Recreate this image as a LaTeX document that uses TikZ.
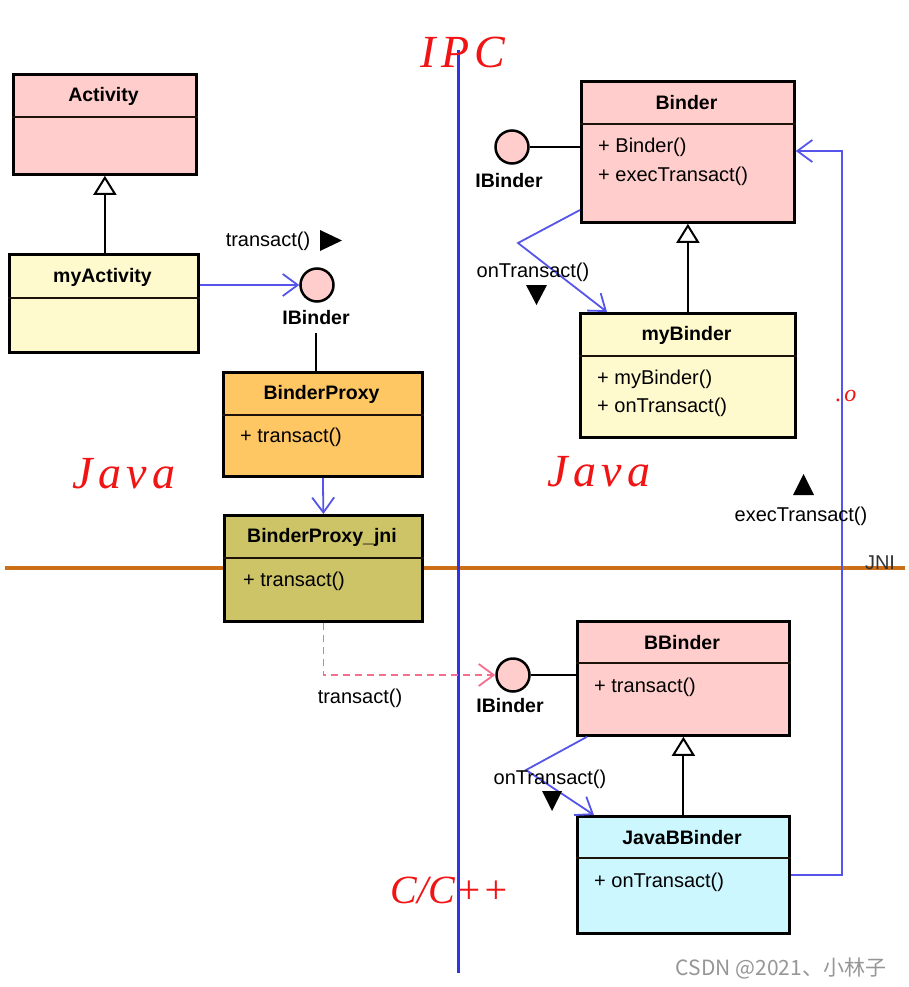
\documentclass[tikz,border=0pt]{standalone}
\usepackage{fontspec}
\setmainfont{Liberation Sans}
\newfontfamily\handfont[LetterSpace=12]{Liberation Serif}
\newfontfamily\handfonttight{Liberation Serif}
\newfontfamily\cjkfont{Noto Sans CJK SC}
\usetikzlibrary{arrows.meta}
\definecolor{pinkc}{RGB}{255,206,204}
\definecolor{yellowc}{RGB}{255,250,206}
\definecolor{orangec}{RGB}{255,198,100}
\definecolor{olivec}{RGB}{204,196,102}
\definecolor{cyanc}{RGB}{204,247,255}
\definecolor{assocblue}{RGB}{85,85,235}
\definecolor{ipcblue}{RGB}{50,50,230}
\definecolor{jnior}{RGB}{205,110,25}
\definecolor{dashpink}{RGB}{245,110,140}
\definecolor{handred}{RGB}{240,20,20}
\definecolor{wmgrey}{RGB}{150,150,150}
\begin{document}
\begin{tikzpicture}[x=1pt,y=-1pt,
 classbox/.style={draw=black, line width=2.8pt, inner sep=0pt, anchor=north west},
 titletext/.style={font=\fontsize{19.5}{22}\selectfont\bfseries, inner sep=0pt},
 method/.style={font=\fontsize{20}{24}\selectfont, inner sep=0pt, anchor=west},
 divider/.style={line width=1.6pt, draw=black!85!brown},
 iface/.style={circle, draw=black, line width=2.5pt, fill=pinkc, minimum size=33pt, inner sep=0pt},
 ifacelabel/.style={font=\fontsize{19.5}{22}\selectfont\bfseries, inner sep=0pt},
 lollipop/.style={line width=2pt},
 inherit/.style={line width=2pt, -{Triangle[open, length=19pt, width=23pt, fill=white]}},
 assoc/.style={draw=assocblue, line width=1.8pt, -{Straight Barb[length=15pt, width=22pt]}},
 dashassoc/.style={draw=dashpink, line width=1.8pt, dash pattern=on 7pt off 5pt, -{Straight Barb[length=15pt, width=22pt]}},
 calllabel/.style={font=\fontsize{20}{24}\selectfont, inner sep=0pt},
 hand/.style={text=handred, font=\handfont\itshape\fontsize{46}{50}\selectfont, inner sep=0pt},
]
\useasboundingbox[fill=white] (0,0) rectangle (908,987);

% dividing lines
\coordinate (jniL) at (5,568);
\coordinate (jniR) at (905,568);
\coordinate (ipcT) at (458,50);
\coordinate (ipcB) at (458,973);
\draw[draw=jnior, line width=4pt] (jniL) -- (jniR);
\draw[draw=ipcblue, line width=3pt] (ipcT) -- (ipcB);
\node[font=\fontsize{20}{24}\selectfont, text=black!80, inner sep=0pt] (jnilabel) at (880,563) {JNI};

% classes
\node[classbox, fill=pinkc, minimum width=183pt, minimum height=100pt] (activity) at (12,73) {};
\draw[divider] (activity.west |- 0,117) -- (activity.east |- 0,117);
\node[titletext] (activityT) at (103.5,96) {Activity};

\node[classbox, fill=yellowc, minimum width=189pt, minimum height=98pt] (myactivity) at (8,253) {};
\draw[divider] (myactivity.west |- 0,298) -- (myactivity.east |- 0,298);
\node[titletext] (myactivityT) at (102.5,277) {myActivity};

\node[classbox, fill=orangec, minimum width=199pt, minimum height=104pt] (proxy) at (222,371) {};
\draw[divider] (proxy.west |- 0,415) -- (proxy.east |- 0,415);
\node[titletext] (proxyT) at (321.5,394) {BinderProxy};
\node[method] (proxyM) at (240,437) {+ transact()};

\node[classbox, fill=olivec, minimum width=198pt, minimum height=106pt] (jni) at (223,514) {};
\draw[divider] (jni.west |- 0,558) -- (jni.east |- 0,558);
\node[titletext] (jniT) at (322,537) {BinderProxy\_jni};
\node[method] (jniM) at (243,581) {+ transact()};

\node[classbox, fill=pinkc, minimum width=213pt, minimum height=141pt] (binder) at (580,80) {};
\draw[divider] (binder.west |- 0,124) -- (binder.east |- 0,124);
\node[titletext] (binderT) at (686.5,103) {Binder};
\node[method] (binderM1) at (598,147) {+ Binder()};
\node[method] (binderM2) at (598,176) {+ execTransact()};

\node[classbox, fill=yellowc, minimum width=215pt, minimum height=124pt] (mybinder) at (579,312) {};
\draw[divider] (mybinder.west |- 0,356) -- (mybinder.east |- 0,356);
\node[titletext] (mybinderT) at (686.5,335) {myBinder};
\node[method] (mybinderM1) at (597,379) {+ myBinder()};
\node[method] (mybinderM2) at (597,407) {+ onTransact()};

\node[classbox, fill=pinkc, minimum width=212pt, minimum height=114pt] (bbinder) at (576,620) {};
\draw[divider] (bbinder.west |- 0,663) -- (bbinder.east |- 0,663);
\node[titletext] (bbinderT) at (682,643) {BBinder};
\node[method] (bbinderM) at (594,687) {+ transact()};

\node[classbox, fill=cyanc, minimum width=212pt, minimum height=117pt] (javab) at (576,815) {};
\draw[divider] (javab.west |- 0,858) -- (javab.east |- 0,858);
\node[titletext] (javabT) at (682,838) {JavaBBinder};
\node[method] (javabM) at (594,882) {+ onTransact()};

% interfaces
\node[iface] (ib1) at (317,285) {};
\node[ifacelabel] (ib1L) at (316,318) {IBinder};
\node[iface] (ib2) at (512,147) {};
\node[ifacelabel] (ib2L) at (509,181) {IBinder};
\node[iface] (ib3) at (513,675) {};
\node[ifacelabel] (ib3L) at (510,706) {IBinder};

% lollipop links
\draw[lollipop] (ib1L.south |- 0,333) -- (ib1L.south |- proxy.north);
\draw[lollipop] (ib2.east) -- (binder.west |- ib2);
\draw[lollipop] (ib3.east) -- (bbinder.west |- ib3);

% inheritance
\draw[inherit] (myactivity.north -| activity.south) -- (activity.south);
\draw[inherit] (mybinder.north) -- (binder.south);
\draw[inherit] (javab.north) -- (bbinder.south);

% associations
\draw[assoc] (myactivity.east |- ib1) -- (ib1.west);
\draw[assoc] (proxy.south) -- (jni.north);
\coordinate (bendA) at (518,243);
\draw[assoc] (binder.west |- 0,210) -- (bendA) -- (mybinder.north -| 607,0);
\coordinate (bendB) at (526,770);
\draw[assoc] (bbinder.south -| 587,0) -- (bendB) -- (javab.north -| 594,0);
\coordinate (rc1) at (842,875);
\coordinate (rc2) at (842,151);
\draw[assoc] (javab.east |- rc1) -- (rc1) -- (rc2) -- (binder.east |- rc2);
\draw[dashassoc] (jni.south) |- (ib3.west);

% call labels and direction markers
\node[calllabel] (l1) at (268,241) {transact()};
\fill (320,230) -- (342,240.5) -- (320,251) -- cycle;
\node[calllabel] (l2) at (533,272) {onTransact()};
\fill (526,285) -- (547,285) -- (536.5,305) -- cycle;
\node[calllabel] (l3) at (550,779) {onTransact()};
\fill (542,791) -- (562,791) -- (552,811) -- cycle;
\node[calllabel] (l4) at (360,698) {transact()};
\node[calllabel] (l5) at (801,516) {execTransact()};
\fill (793,495) -- (814,495) -- (803.5,474) -- cycle;

% handwriting
\node[hand] (hIPC) at (463,52) {IPC};
\node[hand] (hJava1) at (124,474) {Java};
\node[hand] (hJava2) at (599,472) {Java};
\node[hand, font=\handfonttight\itshape\fontsize{40}{44}\selectfont] (hC) at (450,890) {C/C++};
\node[hand, font=\handfont\itshape\fontsize{24}{26}\selectfont] (hO) at (846,396) {.o};

% watermark
\node[text=wmgrey, font=\cjkfont\fontsize{21}{25}\selectfont, inner sep=0pt] (wm) at (781,968) {CSDN @2021、小林子};
\end{tikzpicture}
\end{document}
